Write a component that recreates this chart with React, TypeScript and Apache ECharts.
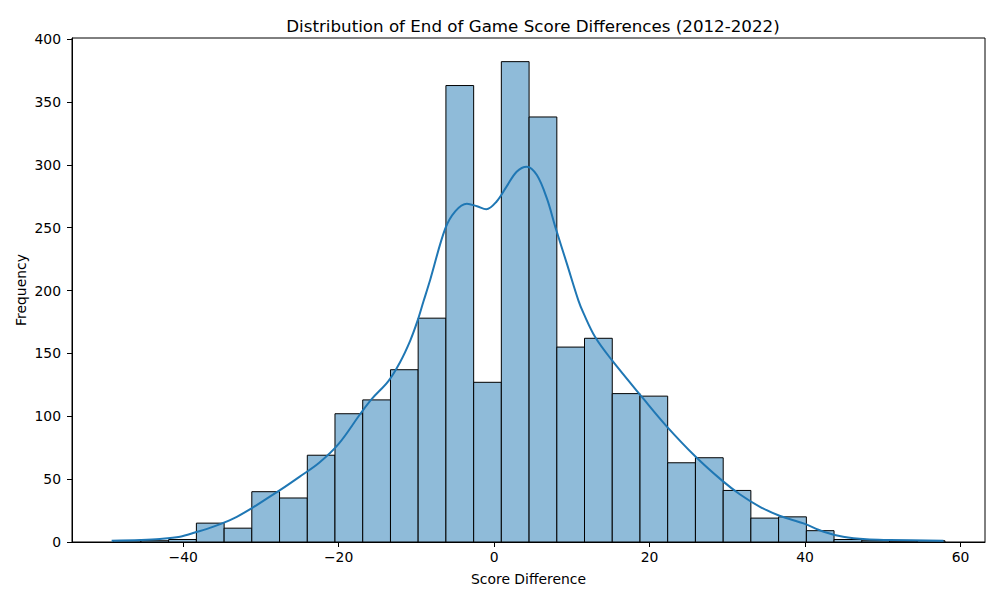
import React, { useEffect, useRef } from "react";
import * as echarts from "echarts";

const binEdges = [
  -49, -45.43, -41.87, -38.3, -34.73, -31.17, -27.6, -24.03, -20.47, -16.9,
  -13.33, -9.77, -6.2, -2.63, 0.93, 4.5, 8.07, 11.63, 15.2, 18.77, 22.33,
  25.9, 29.47, 33.03, 36.6, 40.17, 43.73, 47.3, 50.87, 54.43, 58,
];
const binCounts = [
  1, 1, 2, 15, 11, 40, 35, 69, 102, 113, 137, 178, 363, 127, 382, 338, 155,
  162, 118, 116, 63, 67, 41, 19, 20, 9, 2, 1, 0, 1,
];
const kdeX = [
  -49.2, -45.5, -43, -40.4, -38.5, -36.1, -33.5, -31.2, -29.2, -27.5, -25,
  -22.5, -20, -17.2, -15.7, -13.6, -12.1, -10.8, -9.9, -9.1, -8.2, -6.3, -5.0,
  -3.5, -2.2, -1.0, 0.3, 1.6, 2.9, 4.2, 5.5, 6.8, 7.9, 9.35, 10.85, 11.5, 13.0,
  15.1, 19.2, 22.2, 25.9, 29.3, 31.6, 34.2, 36.8, 39.8, 42.4, 44.9, 47.9,
  50.9, 57.8,
];
const kdeY = [
  1.0, 1.6, 2.4, 4.2, 7.5, 12.2, 18.8, 26.8, 34.7, 41.4, 52, 63, 78, 102, 114,
  128, 143, 160, 175, 191, 209, 249, 263, 269, 267, 264.6, 270.6, 282.6, 294.5,
  298.5, 291.8, 273, 250, 221.6, 192, 182, 163, 145, 114, 92, 68, 49, 38, 28,
  20.7, 14.8, 8.2, 4.2, 2.1, 1.6, 1.0,
];
const xTicks = [-40, -20, 0, 20, 40, 60];
const yTicks = [0, 50, 100, 150, 200, 250, 300, 350, 400];

const FONT = "DejaVu Sans";
const fmt = (v: number) => String(v).replace("-", "\u2212");

export default function App() {
  const ref = useRef<HTMLDivElement>(null);
  useEffect(() => {
    if (!ref.current) return;
    const chart = echarts.init(ref.current, null, { renderer: "svg" });
    const histData = binCounts.map((c, i) => [binEdges[i], binEdges[i + 1], c]);
    const kdeData = kdeX.map((x, i) => [x, kdeY[i]]);
    chart.setOption({
      animation: false,
      backgroundColor: "#fff",
      textStyle: { fontFamily: FONT },
      title: {
        text: "Distribution of End of Game Score Differences (2012-2022)",
        left: 528,
        textAlign: "center",
        top: 12,
        textStyle: { fontFamily: FONT, fontSize: 16.7, fontWeight: "normal", color: "#000" },
      },
      grid: {
        left: 72,
        right: 15,
        top: 38,
        bottom: 58,
        show: true,
        borderColor: "#000",
        borderWidth: 1,
        backgroundColor: "transparent",
      },
      xAxis: {
        type: "value",
        min: -54.3,
        max: 63.15,
        name: "Score Difference",
        nameLocation: "middle",
        nameGap: 30,
        nameTextStyle: { fontFamily: FONT, fontSize: 13.9, color: "#000" },
        axisLine: { show: true, onZero: false, lineStyle: { color: "#000", width: 1 } },
        axisTick: { show: true, length: 5, lineStyle: { color: "#000" }, customValues: xTicks },
        axisLabel: {
          customValues: xTicks,
          formatter: (v: number) => fmt(v),
          fontFamily: FONT,
          fontSize: 13.9,
          color: "#000",
          margin: 8,
        },
        splitLine: { show: false },
      },
      yAxis: {
        type: "value",
        min: 0,
        max: 400.8,
        name: "Frequency",
        nameLocation: "middle",
        nameGap: 44,
        nameMoveOverlap: false,
        nameTextStyle: { fontFamily: FONT, fontSize: 13.9, color: "#000" },
        axisLine: { show: true, onZero: false, lineStyle: { color: "#000", width: 1 } },
        axisTick: {
          show: true,
          length: 5,
          lineStyle: { color: "#000" },
          customValues: yTicks,
        },
        axisLabel: {
          customValues: yTicks,
          fontFamily: FONT,
          fontSize: 13.9,
          color: "#000",
          margin: 11,
        },
        splitLine: { show: false },
      },
      series: [
        {
          type: "custom",
          data: histData,
          encode: { x: [0, 1], y: 2 },
          renderItem: (params: any, api: any) => {
            const x0 = api.value(0);
            const x1 = api.value(1);
            const c = api.value(2);
            const p0 = api.coord([x0, c]);
            const p1 = api.coord([x1, 0]);
            return {
              type: "rect",
              shape: { x: p0[0], y: p0[1], width: p1[0] - p0[0], height: p1[1] - p0[1] },
              style: { fill: "#8fbbd9", stroke: "#000", lineWidth: 1 },
            };
          },
          z: 2,
        },
        {
          type: "line",
          data: kdeData,
          smooth: 0.35,
          showSymbol: false,
          symbol: "none",
          lineStyle: { color: "#1f77b4", width: 2 },
          z: 3,
        },
      ],
    });
    return () => chart.dispose();
  }, []);
  return <div ref={ref} style={{ width: 1000, height: 600, margin: -8 }} />;
}
